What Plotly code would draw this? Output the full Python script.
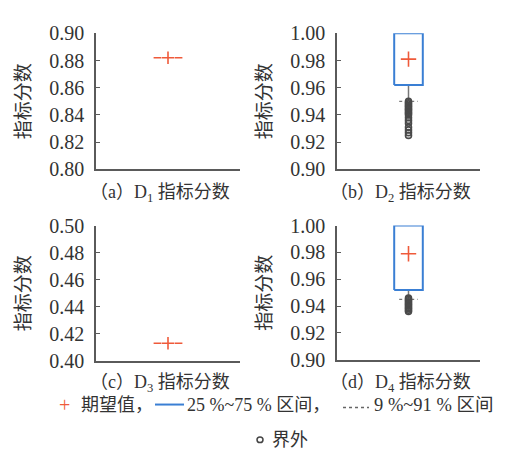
import plotly.graph_objects as go

# ---------------- data ----------------
panel_names = ["D1", "D2", "D3", "D4"]
panel_captions = ["（a）D<sub>1</sub> 指标分数", "（b）D<sub>2</sub> 指标分数",
                  "（c）D<sub>3</sub> 指标分数", "（d）D<sub>4</sub> 指标分数"]
mean_values = [0.882, 0.981, 0.413, 0.979]
q1_values = [0.882, 0.962, 0.413, 0.952]
q3_values = [0.882, 1.000, 0.413, 1.000]
lower_fence = [None, 0.950, None, 0.945]
outliers_d2 = [0.950, 0.949, 0.948, 0.947, 0.946, 0.945, 0.944, 0.943, 0.942,
               0.941, 0.940, 0.938, 0.936, 0.934, 0.931, 0.929, 0.927, 0.925]
outliers_d4 = [0.946, 0.945, 0.944, 0.943, 0.942, 0.941, 0.940, 0.939, 0.938,
               0.937, 0.936]
outliers = [[], outliers_d2, [], outliers_d4]
y_ranges = [[0.80, 0.90], [0.90, 1.00], [0.40, 0.50], [0.90, 1.00]]
y_tick_vals = [[0.80, 0.82, 0.84, 0.86, 0.88, 0.90],
               [0.90, 0.92, 0.94, 0.96, 0.98, 1.00],
               [0.40, 0.42, 0.44, 0.46, 0.48, 0.50],
               [0.90, 0.92, 0.94, 0.96, 0.98, 1.00]]

# ---------------- style ----------------
W, H = 507, 458
RED = "#ef5a3a"
BLUE = "#3a7fd4"
AXIS = "#5a5a5a"
FONT = "Liberation Serif, Noto Sans CJK SC"
TICKFONT = "Liberation Serif"
TXT = "#333333"

def px_x(p):
    return p / W

def px_y(p):
    return 1 - p / H

# pixel domains for each panel (left, right, top, bottom)
dom_px = [(88, 232, 15, 158), (329, 472, 15, 158),
          (88, 232, 217, 359), (329, 472, 217, 358)]

fig = go.Figure()
cx = 0.5
bw = 0.1  # half box width
cap = 0.065

for i in range(4):
    xa = "x" if i == 0 else f"x{i+1}"
    ya = "y" if i == 0 else f"y{i+1}"
    q1, q3 = q1_values[i], q3_values[i]
    if q1 == q3:
        fig.add_trace(go.Scatter(
            x=[cx - bw, cx - 0.047, None, cx + 0.047, cx + bw],
            y=[q1, q1, None, q3, q3], mode="lines",
            line=dict(color=RED, width=1.5), xaxis=xa, yaxis=ya,
            showlegend=False, hoverinfo="skip"))
        msize = 9
    else:
        lf = lower_fence[i]
        fig.add_trace(go.Scatter(x=[cx, cx], y=[q1, lf], mode="lines",
                                 line=dict(color="#777777", width=1.5),
                                 xaxis=xa, yaxis=ya, showlegend=False, hoverinfo="skip"))
        fig.add_trace(go.Scatter(x=[cx - cap, cx + cap], y=[lf, lf], mode="lines",
                                 line=dict(color="#777777", width=1.2, dash="dot"),
                                 xaxis=xa, yaxis=ya, showlegend=False, hoverinfo="skip"))
        fig.add_trace(go.Scatter(x=[cx] * len(outliers[i]), y=outliers[i], mode="markers",
                                 marker=dict(symbol="circle-open", size=6, color="#4a4a4a",
                                             line=dict(width=1.6, color="#4a4a4a")),
                                 xaxis=xa, yaxis=ya, showlegend=False, hoverinfo="skip"))
        fig.add_trace(go.Scatter(x=[cx - bw, cx + bw, cx + bw, cx - bw, cx - bw],
                                 y=[q1, q1, q3, q3, q1], mode="lines",
                                 line=dict(color=BLUE, width=2),
                                 xaxis=xa, yaxis=ya, showlegend=False, hoverinfo="skip",
                                 cliponaxis=False))
        msize = 11
    fig.add_trace(go.Scatter(x=[cx], y=[mean_values[i]], mode="markers",
                             marker=dict(symbol="cross-thin", size=msize,
                                         line=dict(width=1.6, color=RED)),
                             xaxis=xa, yaxis=ya, showlegend=False, hoverinfo="skip"))

layout = dict(width=W, height=H, autosize=False,
              margin=dict(l=0, r=0, t=0, b=0),
              paper_bgcolor="white", plot_bgcolor="white",
              font=dict(family=FONT, size=17, color=TXT))

for i in range(4):
    l, r, t, b = dom_px[i]
    xk = "xaxis" if i == 0 else f"xaxis{i+1}"
    yk = "yaxis" if i == 0 else f"yaxis{i+1}"
    ya_anchor = "x" if i == 0 else f"x{i+1}"
    xa_anchor = "y" if i == 0 else f"y{i+1}"
    layout[xk] = dict(domain=[px_x(l), px_x(r)], range=[0, 1], anchor=xa_anchor,
                      showline=True, linecolor=AXIS, linewidth=1.5,
                      showticklabels=False, ticks="", showgrid=False, zeroline=False)
    layout[yk] = dict(domain=[px_y(b), px_y(t)], range=y_ranges[i], anchor=ya_anchor,
                      showline=True, linecolor=AXIS, linewidth=1.5,
                      tickvals=y_tick_vals[i], tickformat=".2f",
                      ticks="inside", ticklen=4, tickcolor=AXIS, tickwidth=1.2,
                      ticklabelstandoff=6,
                      tickfont=dict(family=TICKFONT, size=20, color=TXT),
                      showgrid=False, zeroline=False,
                      title=dict(text="指标分数", standoff=14,
                                 font=dict(family=FONT, size=19, color=TXT)))
fig.update_layout(**layout)

# captions
cap_pos = [(80, 183), (320, 183), (80, 383), (320, 383)]
for i in range(4):
    fig.add_annotation(x=px_x(cap_pos[i][0]), y=px_y(cap_pos[i][1]), xref="paper", yref="paper",
                       text=panel_captions[i], showarrow=False,
                       font=dict(family=FONT, size=18, color=TXT),
                       xanchor="left", yanchor="middle")

# legend (text pieces)
ly1 = px_y(405)
ly2 = px_y(442)
leg_items = [
    (49, "<span style='color:%s'>+</span>" % RED, 20),
    (71, "期望值，", 18),
    (177, "25 %~75 % 区间，", 18),
    (364, "9 %~91 % 区间", 18.5),
]
for x0, txt, fs in leg_items:
    fig.add_annotation(x=px_x(x0), y=ly1, xref="paper", yref="paper", text=txt,
                       showarrow=False, xanchor="left", yanchor="middle",
                       font=dict(family=FONT, size=fs, color=TXT))
fig.add_shape(type="line", xref="paper", yref="paper", x0=px_x(147), x1=px_x(176),
              y0=ly1, y1=ly1, line=dict(color=BLUE, width=2))
fig.add_shape(type="line", xref="paper", yref="paper", x0=px_x(335), x1=px_x(361),
              y0=px_y(408), y1=px_y(408), line=dict(color="#666666", width=1.5, dash="dot"))
fig.add_shape(type="circle", xref="paper", yref="paper",
              x0=px_x(249), x1=px_x(255), y0=px_y(445), y1=px_y(439),
              line=dict(color="#444444", width=1.5))
fig.add_annotation(x=px_x(262), y=ly2, xref="paper", yref="paper", text="界外",
                   showarrow=False, xanchor="left", yanchor="middle",
                   font=dict(family=FONT, size=18, color=TXT))

fig.write_html("out.html")
